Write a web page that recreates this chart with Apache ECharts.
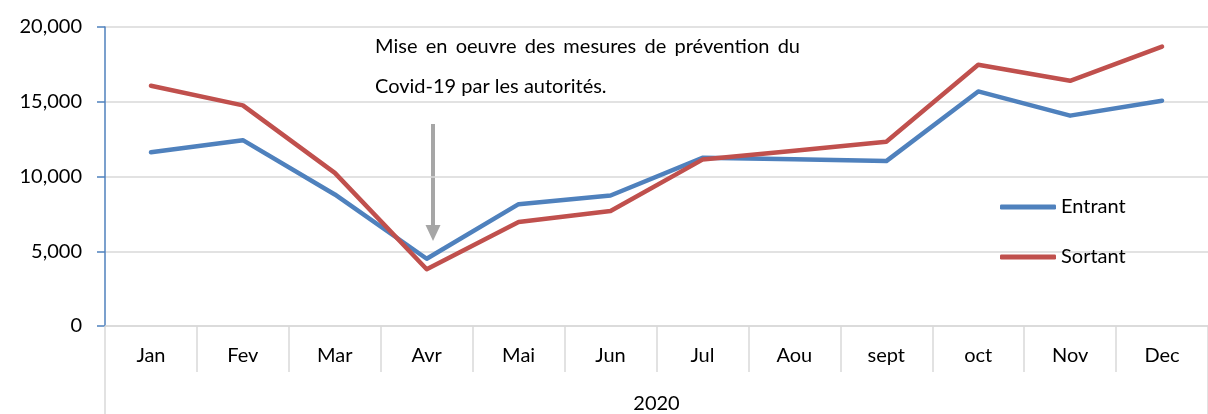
<!DOCTYPE html>
<html>
<head>
<meta charset="utf-8">
<script src="https://cdn.jsdelivr.net/npm/echarts@6/dist/echarts.min.js"></script>
<style>html,body{margin:0;padding:0;background:#fff}#c{width:1208px;height:414px}</style>
</head>
<body>
<div id="c"></div>
<script>
const categories = ['Jan','Fev','Mar','Avr','Mai','Jun','Jul','Aou','sept','oct','Nov','Dec'];
const groupLabel = ['2020'];
const entrant = [11620, 12430, 8800, 4500, 8150, 8730, 11250, 11150, 11030, 15690, 14070, 15070];
const sortant = [16070, 14760, 10240, 3800, 6950, 7690, 11130, 11730, 12330, 17470, 16400, 18690];
const seriesNames = ['Entrant','Sortant'];
const annotationLine1 = ['Mise','en','oeuvre','des','mesures','de','prévention','du'];
const annotationLine2 = 'Covid-19 par les autorités.';

const FONT = 'Lato, "Open Sans", sans-serif';
const ANNO_FONT = '20px Lato, sans-serif';

// justify first annotation line between x=375 and x=800
const ctx = document.createElement('canvas').getContext('2d');
ctx.font = ANNO_FONT;
const widths = annotationLine1.map(w => ctx.measureText(w).width);
const totalW = widths.reduce((a, b) => a + b, 0);
const gap = (800 - 375 - totalW) / (annotationLine1.length - 1);
let cx = 375;
const graphics = annotationLine1.map((w, i) => {
  const el = {type: 'text', left: cx, top: 37, style: {text: w, font: ANNO_FONT, fill: '#000'}};
  cx += widths[i] + gap;
  return el;
});
graphics.push({type: 'text', left: 375, top: 77,
  style: {text: annotationLine2, font: ANNO_FONT, fill: '#000'}});
graphics.push({type: 'line', shape: {x1: 433, y1: 124, x2: 433, y2: 228},
  style: {stroke: '#a6a6a6', lineWidth: 4}});
graphics.push({type: 'polygon', shape: {points: [[425.5, 225], [440.5, 225], [433, 241]]},
  style: {fill: '#a6a6a6'}});

const chart = echarts.init(document.getElementById('c'), null, {renderer: 'canvas'});
chart.setOption({
  animation: false,
  grid: {left: 105, right: -13, top: 27, bottom: 87, containLabel: false},
  legend: {
    data: seriesNames, orient: 'vertical', left: 995, top: 190, itemGap: 26,
    itemWidth: 56, itemHeight: 5, icon: 'roundRect',
    textStyle: {fontSize: 20, fontFamily: FONT, color: '#000', lineHeight: 24}
  },
  xAxis: [{
    type: 'category', data: categories, boundaryGap: true,
    axisLine: {show: true, lineStyle: {color: '#d9d9d9', width: 1.5}},
    axisTick: {show: true, interval: 0, length: 46, lineStyle: {color: '#d9d9d9', width: 1.5}},
    axisLabel: {interval: 0, margin: 20, fontSize: 20, fontFamily: FONT, color: '#000'},
    splitLine: {show: false}
  }, {
    type: 'category', data: groupLabel, position: 'bottom', offset: 46, boundaryGap: true,
    axisLine: {show: false},
    axisTick: {show: true, interval: 0, length: 45, lineStyle: {color: '#d9d9d9', width: 1.5}},
    axisLabel: {margin: 22, fontSize: 20, fontFamily: FONT, color: '#000'}
  }],
  yAxis: {
    type: 'value', min: 0, max: 20000, interval: 5000,
    axisLine: {show: true, lineStyle: {color: '#4f81bd', width: 1.5}},
    axisTick: {show: true, inside: false, length: 8, lineStyle: {color: '#4f81bd', width: 1.5}},
    axisLabel: {margin: 23, fontSize: 20, fontFamily: FONT, color: '#000',
      formatter: v => v.toLocaleString('en-US')},
    splitLine: {show: true, lineStyle: {color: '#d9d9d9', width: 1.5}}
  },
  series: [{
    name: seriesNames[0], type: 'line', data: entrant, symbol: 'none', xAxisIndex: 0,
    itemStyle: {color: '#4f81bd'},
    lineStyle: {color: '#4f81bd', width: 4.5, cap: 'round', join: 'round'}
  }, {
    name: seriesNames[1], type: 'line', data: sortant, symbol: 'none', xAxisIndex: 0,
    itemStyle: {color: '#c0504d'},
    lineStyle: {color: '#c0504d', width: 4.5, cap: 'round', join: 'round'}
  }],
  graphic: graphics
});
</script>
</body>
</html>
